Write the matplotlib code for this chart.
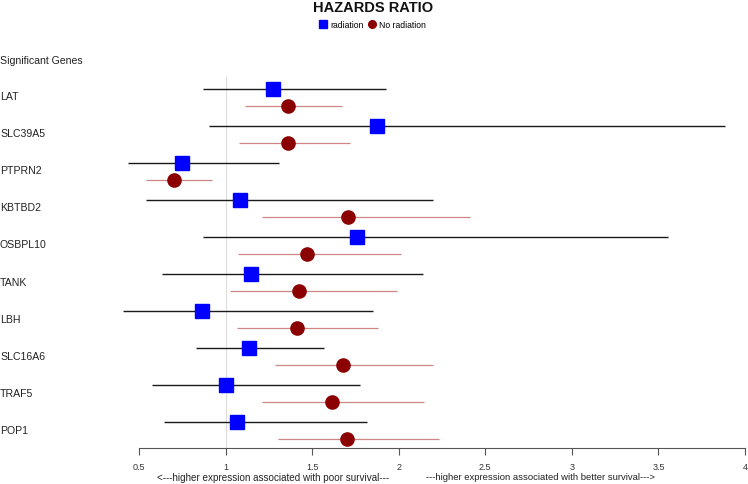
import matplotlib
matplotlib.use("Agg")
import matplotlib.pyplot as plt
from matplotlib.lines import Line2D

plt.rcParams['font.family'] = ['Liberation Sans', 'DejaVu Sans']

# -----------------------------
# Data
# -----------------------------
genes = ["LAT", "SLC39A5", "PTPRN2", "KBTBD2", "OSBPL10",
         "TANK", "LBH", "SLC16A6", "TRAF5", "POP1"]

rad_hr = [1.274, 1.874, 0.749, 1.084, 1.759, 1.147, 0.864, 1.136, 1.003, 1.066]
rad_lo = [0.870, 0.905, 0.437, 0.541, 0.870, 0.633, 0.408, 0.830, 0.576, 0.645]
rad_hi = [1.926, 3.884, 1.309, 2.198, 3.554, 2.140, 1.851, 1.569, 1.777, 1.817]

norad_hr = [1.361, 1.361, 0.703, 1.707, 1.471, 1.424, 1.413, 1.678, 1.615, 1.701]
norad_lo = [1.113, 1.078, 0.541, 1.211, 1.072, 1.026, 1.066, 1.286, 1.211, 1.303]
norad_hi = [1.673, 1.719, 0.922, 2.412, 2.013, 1.990, 1.880, 2.198, 2.146, 2.233]

xticks = [0.5, 1, 1.5, 2, 2.5, 3, 3.5, 4]
xtick_labels = ["0.5", "1", "1.5", "2", "2.5", "3", "3.5", "4"]

# -----------------------------
# Figure
# -----------------------------
fig = plt.figure(figsize=(7.48, 4.84), dpi=100)
ax = fig.add_axes([0.1626, 0.0744, 0.8334, 0.8223])

rows = list(range(len(genes)))
off = 0.23
y_rad = [r - off for r in rows]
y_norad = [r + off for r in rows]

y_bottom, y_top = 9.46, -1.27
ax.set_ylim(y_bottom, y_top)
ax.set_xlim(0.4, 4.0)

# reference line at HR = 1
ax.plot([1, 1], [y_bottom, -0.55], color="#dcdcdc", lw=0.8, zorder=1, clip_on=False)

# confidence intervals
ax.hlines(y_rad, rad_lo, rad_hi, color="#1a1a1a", lw=1.0, zorder=2, clip_on=False)
ax.hlines(y_norad, norad_lo, norad_hi, color="#cf8585", lw=0.9, zorder=2, clip_on=False)

# point estimates
ax.plot(rad_hr, y_rad, ls="none", marker="s", ms=10, color="#0000ff",
        mec="#0000ff", zorder=3, clip_on=False)
ax.plot(norad_hr, y_norad, ls="none", marker="o", ms=9.5, color="#8b0000",
        mec="#8b0000", zorder=3, clip_on=False)

# gene labels on the left
lab_tr = matplotlib.transforms.blended_transform_factory(fig.transFigure, ax.transData)
ax.text(0.0, -0.97, "Significant Genes", transform=lab_tr, ha="left", va="center",
        fontsize=7.6, color="#222222")
for g, r in zip(genes, rows):
    ax.text(0.0, r, g, transform=lab_tr, ha="left", va="center",
            fontsize=7.6, color="#222222")

# axes styling (R-like)
for s in ["top", "right", "left"]:
    ax.spines[s].set_visible(False)
ax.spines["bottom"].set_bounds(0.5, 4)
ax.spines["bottom"].set_color("#555555")
ax.spines["bottom"].set_linewidth(0.8)
ax.set_yticks([])
ax.set_xticks(xticks)
ax.set_xticklabels(xtick_labels)
ax.tick_params(axis="x", length=5, width=0.8, color="#555555", labelsize=6.5,
               labelcolor="#333333", pad=6)

# direction annotations
fig.text(273.5 / 748, 1 - 478 / 484, "<---higher expression associated with poor survival---",
         ha="center", va="center", fontsize=7.1, color="#222222")
fig.text(540 / 748, 1 - 478 / 484, "---higher expression associated with better survival--->",
         ha="center", va="center", fontsize=6.8, color="#222222")

# title
fig.text(373 / 748, 1 - 8 / 484, "HAZARDS RATIO", ha="center", va="center",
         fontsize=10.5, fontweight="bold", color="#111111")

# legend
handles = [
    Line2D([], [], ls="none", marker="s", ms=5.5, color="#0000ff", label="radiation"),
    Line2D([], [], ls="none", marker="o", ms=5.5, color="#8b0000", label="No radiation"),
]
fig.legend(handles=handles, loc="center", bbox_to_anchor=(373 / 748, 1 - 25 / 484),
           ncol=2, frameon=False, fontsize=6.2, handlelength=0.8, handletextpad=0.4,
           columnspacing=0.6, borderpad=0)

fig.savefig("out.png", dpi=100)
